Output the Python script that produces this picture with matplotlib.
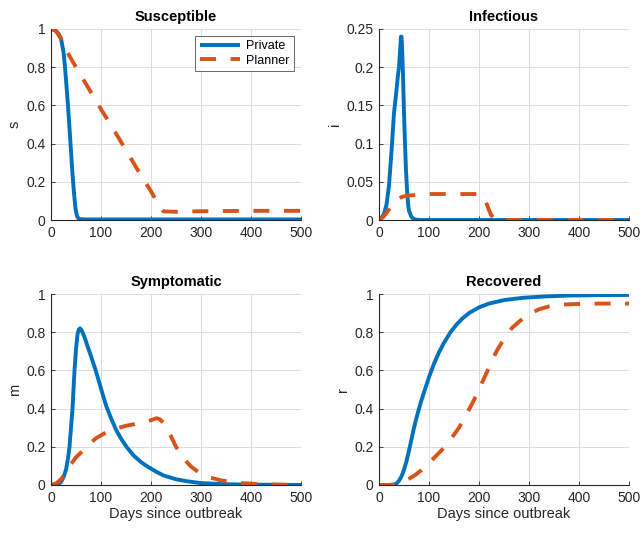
import numpy as np
import matplotlib.pyplot as plt

plt.rcParams['font.family'] = ['Liberation Sans', 'DejaVu Sans']

blue = '#0072BD'
orange = '#D95319'

# Susceptible
s_days_priv = [0, 5, 10, 15, 20, 25, 28, 31, 34, 37, 40, 43, 46, 49, 52, 55, 60, 70, 100, 200, 300, 400, 500]
s_priv = [1.0, 0.998, 0.99, 0.975, 0.95, 0.88, 0.80, 0.70, 0.60, 0.48, 0.36, 0.24, 0.14, 0.06, 0.02, 0.008,
          0.004, 0.003, 0.003, 0.003, 0.003, 0.003, 0.003]
s_days_plan = [0, 10, 20, 30, 50, 75, 100, 125, 150, 175, 200, 215, 225, 250, 300, 400, 500]
s_plan = [1.0, 0.99, 0.95, 0.89, 0.80, 0.69, 0.58, 0.475, 0.365, 0.255, 0.15, 0.08, 0.045, 0.043, 0.046, 0.048, 0.048]

# Infectious
i_days_priv = [0, 5, 10, 15, 20, 25, 30, 35, 38, 40, 42, 44, 45, 46, 48, 50, 52, 54, 56, 58, 60, 65, 70, 80, 100, 500]
i_priv = [0, 0.003, 0.008, 0.02, 0.045, 0.09, 0.14, 0.17, 0.19, 0.20, 0.22, 0.24, 0.24, 0.23, 0.19, 0.14, 0.10,
          0.065, 0.04, 0.022, 0.012, 0.004, 0.001, 0, 0, 0]
i_days_plan = [0, 5, 10, 15, 20, 25, 30, 35, 40, 45, 50, 60, 80, 100, 150, 200, 207, 212, 216, 220, 224, 228, 232,
               240, 300, 500]
i_plan = [0, 0.002, 0.005, 0.009, 0.014, 0.019, 0.023, 0.026, 0.028, 0.030, 0.031, 0.032, 0.033, 0.034, 0.034,
          0.034, 0.032, 0.026, 0.02, 0.013, 0.007, 0.003, 0.001, 0, 0, 0]

# Symptomatic
m_days_priv = [0, 10, 15, 20, 25, 30, 34, 37, 40, 43, 45, 47, 50, 53, 56, 58, 60, 63, 67, 72, 78, 84, 90, 95, 100,
               105, 111, 120, 130, 140, 151, 165, 180, 191, 210, 225, 250, 271, 300, 350, 400, 500]
m_priv = [0, 0.002, 0.006, 0.015, 0.04, 0.08, 0.14, 0.2, 0.3, 0.4, 0.5, 0.6, 0.71, 0.79, 0.815, 0.82, 0.815,
          0.80, 0.775, 0.735, 0.69, 0.643, 0.595, 0.55, 0.505, 0.46, 0.41, 0.35, 0.29, 0.243, 0.20, 0.155, 0.12,
          0.10, 0.07, 0.05, 0.03, 0.02, 0.01, 0.004, 0.002, 0]
m_days_plan = [0, 10, 20, 30, 40, 50, 60, 75, 90, 110, 130, 150, 170, 190, 203, 211, 217, 223, 230, 240, 250, 260,
               270, 280, 290, 300, 320, 340, 380, 420, 460, 500]
m_plan = [0, 0.008, 0.03, 0.065, 0.11, 0.145, 0.17, 0.21, 0.245, 0.275, 0.295, 0.31, 0.32, 0.33, 0.342, 0.35,
          0.345, 0.33, 0.31, 0.255, 0.20, 0.16, 0.125, 0.097, 0.077, 0.06, 0.038, 0.024, 0.01, 0.004, 0.002, 0]

# Recovered
r_days_priv = [0, 20, 30, 35, 40, 45, 50, 55, 60, 65, 70, 75, 80, 85, 90, 100, 110, 120, 130, 143, 155, 167, 180,
               200, 220, 250, 287, 330, 380, 440, 500]
r_priv = [0, 0, 0.002, 0.008, 0.022, 0.045, 0.08, 0.125, 0.18, 0.24, 0.3, 0.352, 0.40, 0.445, 0.485, 0.565,
          0.635, 0.695, 0.745, 0.80, 0.84, 0.872, 0.90, 0.93, 0.95, 0.968, 0.98, 0.987, 0.992, 0.994, 0.995]
r_days_plan = [0, 20, 30, 40, 50, 60, 70, 85, 100, 115, 130, 145, 160, 175, 190, 205, 220, 235, 250, 265, 280, 300,
               320, 340, 370, 400, 450, 500]
r_plan = [0, 0, 0.002, 0.01, 0.02, 0.033, 0.048, 0.078, 0.115, 0.155, 0.195, 0.245, 0.30, 0.37, 0.445, 0.53,
          0.615, 0.70, 0.765, 0.82, 0.855, 0.895, 0.92, 0.935, 0.945, 0.948, 0.95, 0.95]

panels = [
    ('Susceptible', 's', s_days_priv, s_priv, s_days_plan, s_plan, 1.0, [0, 0.2, 0.4, 0.6, 0.8, 1]),
    ('Infectious', 'i', i_days_priv, i_priv, i_days_plan, i_plan, 0.25, [0, 0.05, 0.1, 0.15, 0.2, 0.25]),
    ('Symptomatic', 'm', m_days_priv, m_priv, m_days_plan, m_plan, 1.0, [0, 0.2, 0.4, 0.6, 0.8, 1]),
    ('Recovered', 'r', r_days_priv, r_priv, r_days_plan, r_plan, 1.0, [0, 0.2, 0.4, 0.6, 0.8, 1]),
]

fig = plt.figure(figsize=(6.42, 5.33), dpi=100)
W, H = 642, 533
boxes = [(51, 29), (379, 29), (51, 294), (379, 294)]
lw = 2.8
dash = (0, (11.5 / lw, 10.5 / lw))

for k, (title, ylab, xd1, y1, xd2, y2, ymax, yt) in enumerate(panels):
    x0, y0 = boxes[k]
    ax = fig.add_axes([x0 / W, 1 - (y0 + 191) / H, 250 / W, 191 / H])
    ax.plot(xd1, y1, color=blue, lw=lw, label='Private', solid_capstyle='butt')
    ax.plot(xd2, y2, color=orange, lw=lw, ls=dash, label='Planner', dash_capstyle='butt')
    ax.set_xlim(0, 500)
    ax.set_ylim(0, ymax)
    ax.set_xticks([0, 100, 200, 300, 400, 500])
    ax.set_yticks(yt)
    ax.set_yticklabels([('%g' % v) for v in yt])
    ax.grid(True, color='#dcdcdc', lw=0.7)
    ax.set_axisbelow(True)
    for sp in ['top', 'right']:
        ax.spines[sp].set_visible(False)
    for sp in ['left', 'bottom']:
        ax.spines[sp].set_color('#262626')
        ax.spines[sp].set_linewidth(0.8)
    ax.tick_params(direction='in', length=3, width=0.6, colors='#262626', labelsize=10, pad=4)
    ax.set_title(title, fontsize=10.5, fontweight='bold', pad=6)
    ax.set_ylabel(ylab, fontsize=10.5, color='#262626', labelpad=3)
    if k >= 2:
        ax.set_xlabel('Days since outbreak', fontsize=10.5, color='#262626', labelpad=2)
    if k == 0:
        leg = ax.legend(loc='upper right', fontsize=9, frameon=True, fancybox=False,
                        edgecolor='#262626', handlelength=3.2, borderpad=0.35, handletextpad=0.5,
                        labelspacing=0.2, bbox_to_anchor=(0.97, 0.965), borderaxespad=0)
        leg.get_frame().set_linewidth(0.6)

fig.savefig('out.png', dpi=100)
